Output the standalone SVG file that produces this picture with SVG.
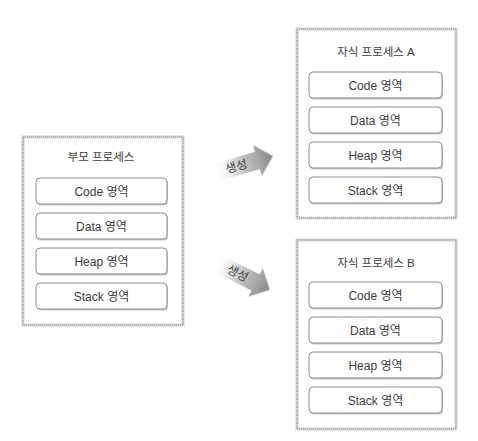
<svg xmlns="http://www.w3.org/2000/svg" width="478" height="441" viewBox="0 0 478 441">
<defs>
<style>
text{font-family:"Liberation Sans","Noto Sans CJK KR",sans-serif;fill:#3c3c3c;text-anchor:middle}
.cont{fill:#fff;stroke:#d6d6d6;stroke-width:3}
.dots{fill:none;stroke:#a6a6a6;stroke-width:1.6;stroke-dasharray:1 1}
.shadow{fill:#c8c8c8}
.box{fill:#fff;stroke:#8e8e8e;stroke-width:1}
.title{font-size:11.5px}
.lbl{font-size:12px}
.al{font-size:12px;fill:#404040}
</style>
<linearGradient id="ag" gradientUnits="userSpaceOnUse" x1="-46" y1="0" x2="16" y2="0">
<stop offset="0" stop-color="#ffffff" stop-opacity="0"/>
<stop offset="0.4" stop-color="#d2d2d2"/>
<stop offset="1" stop-color="#878787"/>
</linearGradient>
<filter id="soft" x="-20%" y="-40%" width="140%" height="180%"><feGaussianBlur stdDeviation="0.7"/></filter>
</defs>
<rect width="478" height="441" fill="#fff"/>

<g id="parent">
<rect class="cont" x="23" y="137" width="160" height="188"/>
<rect class="dots" x="23" y="137" width="160" height="188"/>
<text class="title" x="101" y="161">부모 프로세스</text>
<rect class="shadow" x="37" y="179.5" width="131" height="26" rx="4"/>
<rect class="box" x="36" y="178" width="131" height="26" rx="4"/>
<text class="lbl" x="101.5" y="195.5">Code 영역</text>
<rect class="shadow" x="37" y="214.5" width="131" height="26" rx="4"/>
<rect class="box" x="36" y="213" width="131" height="26" rx="4"/>
<text class="lbl" x="101.5" y="230.5">Data 영역</text>
<rect class="shadow" x="37" y="249.5" width="131" height="26" rx="4"/>
<rect class="box" x="36" y="248" width="131" height="26" rx="4"/>
<text class="lbl" x="101.5" y="265.5">Heap 영역</text>
<rect class="shadow" x="37" y="284.5" width="131" height="26" rx="4"/>
<rect class="box" x="36" y="283" width="131" height="26" rx="4"/>
<text class="lbl" x="101.5" y="300.5">Stack 영역</text>
</g>

<g id="childA">
<rect class="cont" x="297" y="29" width="159" height="189"/>
<rect class="dots" x="297" y="29" width="159" height="189"/>
<text class="title" x="376" y="56">자식 프로세스 A</text>
<rect class="shadow" x="310" y="73.5" width="133" height="26" rx="4"/>
<rect class="box" x="309" y="72" width="133" height="26" rx="4"/>
<text class="lbl" x="375.5" y="89.5">Code 영역</text>
<rect class="shadow" x="310" y="108.5" width="133" height="26" rx="4"/>
<rect class="box" x="309" y="107" width="133" height="26" rx="4"/>
<text class="lbl" x="375.5" y="124.5">Data 영역</text>
<rect class="shadow" x="310" y="143.5" width="133" height="26" rx="4"/>
<rect class="box" x="309" y="142" width="133" height="26" rx="4"/>
<text class="lbl" x="375.5" y="159.5">Heap 영역</text>
<rect class="shadow" x="310" y="178.5" width="133" height="26" rx="4"/>
<rect class="box" x="309" y="177" width="133" height="26" rx="4"/>
<text class="lbl" x="375.5" y="194.5">Stack 영역</text>
</g>

<g id="childB">
<rect class="cont" x="297" y="240" width="159" height="189"/>
<rect class="dots" x="297" y="240" width="159" height="189"/>
<text class="title" x="376" y="267">자식 프로세스 B</text>
<rect class="shadow" x="310" y="283.5" width="133" height="26" rx="4"/>
<rect class="box" x="309" y="282" width="133" height="26" rx="4"/>
<text class="lbl" x="375.5" y="299.5">Code 영역</text>
<rect class="shadow" x="310" y="318.5" width="133" height="26" rx="4"/>
<rect class="box" x="309" y="317" width="133" height="26" rx="4"/>
<text class="lbl" x="375.5" y="334.5">Data 영역</text>
<rect class="shadow" x="310" y="353.5" width="133" height="26" rx="4"/>
<rect class="box" x="309" y="352" width="133" height="26" rx="4"/>
<text class="lbl" x="375.5" y="369.5">Heap 영역</text>
<rect class="shadow" x="310" y="388.5" width="133" height="26" rx="4"/>
<rect class="box" x="309" y="387" width="133" height="26" rx="4"/>
<text class="lbl" x="375.5" y="404.5">Stack 영역</text>
</g>

<g id="connectors">
<g transform="translate(257.5,160.5) rotate(-16)">
<path d="M-46,-9 L0,-9 L0,-16 L16,0 L0,16 L0,9 L-46,9 Z" fill="url(#ag)" filter="url(#soft)"/>
<text class="al" x="-22" y="4">생성</text>
</g>
<g transform="translate(255.5,282.5) rotate(27)">
<path d="M-46,-9 L0,-9 L0,-16 L16,0 L0,16 L0,9 L-46,9 Z" fill="url(#ag)" filter="url(#soft)"/>
<text class="al" x="-20" y="4">생성</text>
</g>
</g>
</svg>
